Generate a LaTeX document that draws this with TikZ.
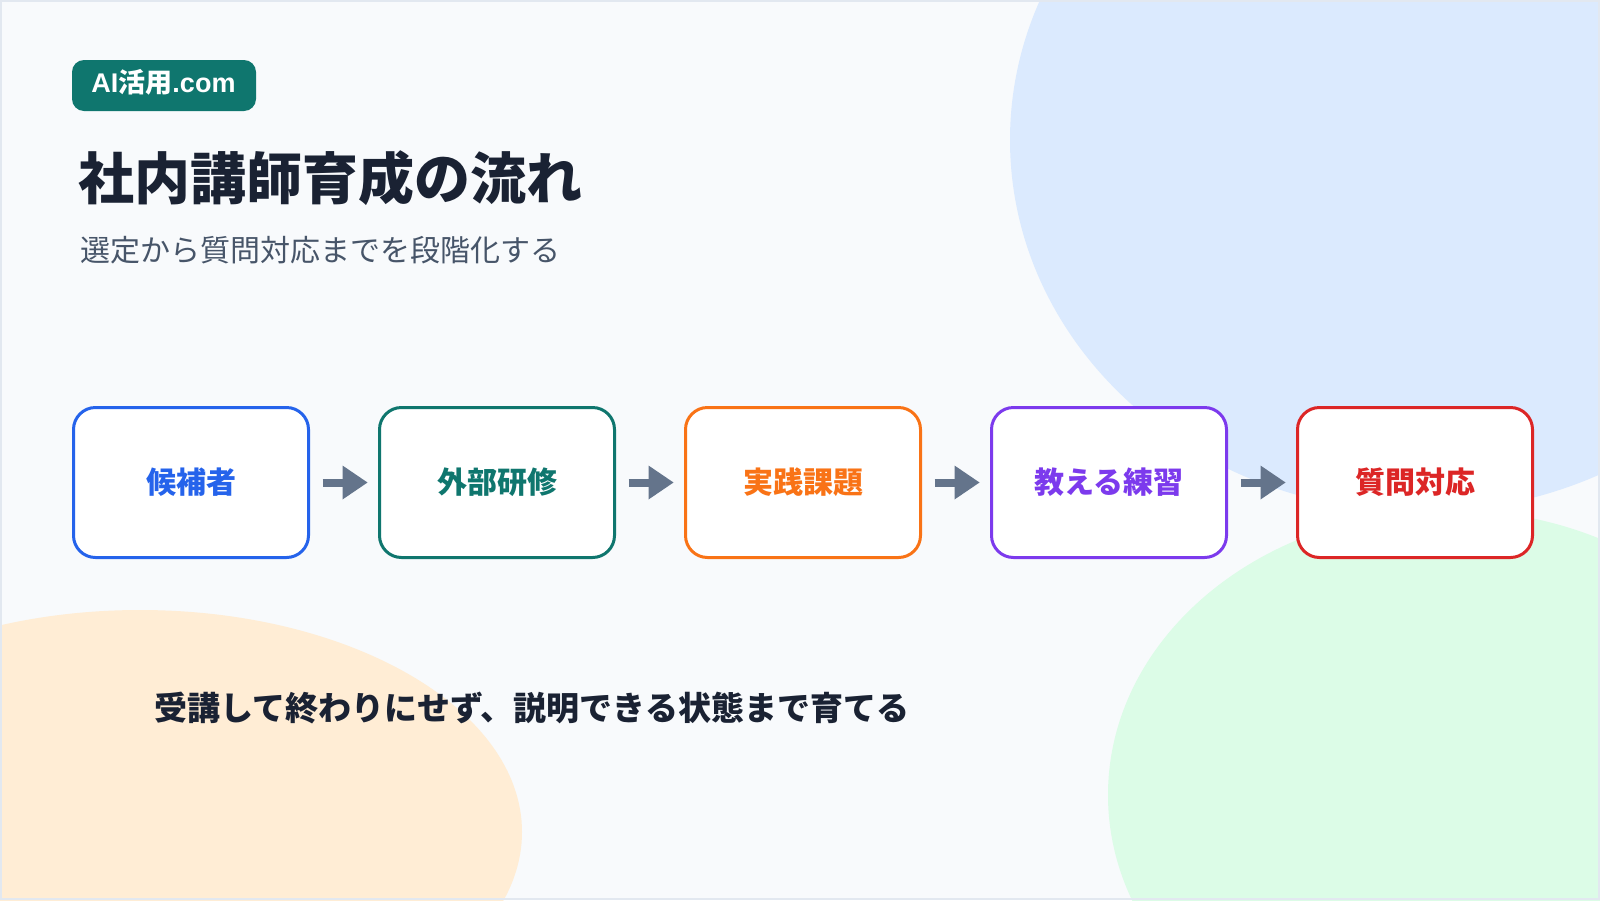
\documentclass[tikz,border=0pt]{standalone}
\usepackage{fontspec}
\setmainfont{Noto Sans CJK JP}
\newfontfamily\latinbold{Liberation Sans}[BoldFont={* Bold}]
\usetikzlibrary{arrows.meta}
\definecolor{bgc}{HTML}{F8FAFC}
\definecolor{borderc}{HTML}{E2E8F0}
\definecolor{blobblue}{HTML}{DBEAFE}
\definecolor{blobgreen}{HTML}{DCFCE7}
\definecolor{bloborange}{HTML}{FFEDD5}
\definecolor{teal}{HTML}{0F766E}
\definecolor{cblue}{HTML}{2563EB}
\definecolor{corange}{HTML}{F97316}
\definecolor{cpurple}{HTML}{7C3AED}
\definecolor{cred}{HTML}{DC2626}
\definecolor{arrowc}{HTML}{64748B}
\definecolor{titlec}{HTML}{1A2233}
\definecolor{subc}{HTML}{475569}
\begin{document}
\begin{tikzpicture}[x=1pt,y=-1pt,
  stepbox/.style={draw=#1, text=#1, fill=white, line width=3pt, rounded corners=22pt,
    minimum width=235pt, minimum height=150pt, inner sep=0pt, outer sep=0pt,
    font=\fontsize{30}{36}\selectfont\bfseries},
  flowarrow/.style={draw=arrowc, line width=8pt,
    -{Triangle[length=25pt,width=34pt,line width=0pt]},
    shorten <=14pt, shorten >=12pt},
  badge/.style={fill=teal, rounded corners=12pt, minimum width=184pt,
    minimum height=51pt, inner sep=0pt},
  badgetext/.style={text=white, inner sep=0pt, anchor=base,
    font=\fontsize{27}{30}\selectfont\bfseries},
  titletext/.style={text=titlec, inner sep=0pt, anchor=base west,
    font=\fontsize{56}{60}\selectfont\bfseries},
  subtext/.style={text=subc, inner sep=0pt, anchor=base west,
    font=\fontsize{30}{34}\selectfont},
  notetext/.style={text=titlec, inner sep=0pt, anchor=base west,
    font=\fontsize{33}{38}\selectfont\bfseries}]
\useasboundingbox (0,0) rectangle (1600,900);
\fill[bgc] (0,0) rectangle (1600,900);
\begin{scope}
  \clip (0,0) rectangle (1600,900);
  \fill[blobblue] (1420,140) ellipse [x radius=410pt, y radius=372pt];
  \fill[blobgreen] (1450,795) ellipse [x radius=342pt, y radius=285pt];
  \fill[bloborange] (140,832) ellipse [x radius=382pt, y radius=222pt];
\end{scope}
\draw[borderc, line width=2pt] (1,1) rectangle (1599,899);

\node[badge] (badge) at (164,85.5) {};
\node[badgetext] (badgelabel) at (163.5,92) {{\latinbold\bfseries AI}活用{\latinbold\bfseries .com}};
\node[titletext] (title) at (78,199) {社内講師育成の流れ};
\node[subtext] (subtitle) at (80,261) {選定から質問対応までを段階化する};

\node[stepbox=cblue] (s1) at (191,482.5) {候補者};
\node[stepbox=teal] (s2) at (497,482.5) {外部研修};
\node[stepbox=corange] (s3) at (803,482.5) {実践課題};
\node[stepbox=cpurple] (s4) at (1109,482.5) {教える練習};
\node[stepbox=cred] (s5) at (1415,482.5) {質問対応};

\draw[flowarrow] (s1.east) -- (s2.west);
\draw[flowarrow] (s2.east) -- (s3.west);
\draw[flowarrow] (s3.east) -- (s4.west);
\draw[flowarrow] (s4.east) -- (s5.west);

\node[notetext] (note) at (154,720) {受講して終わりにせず、説明できる状態まで育てる};
\end{tikzpicture}
\end{document}
